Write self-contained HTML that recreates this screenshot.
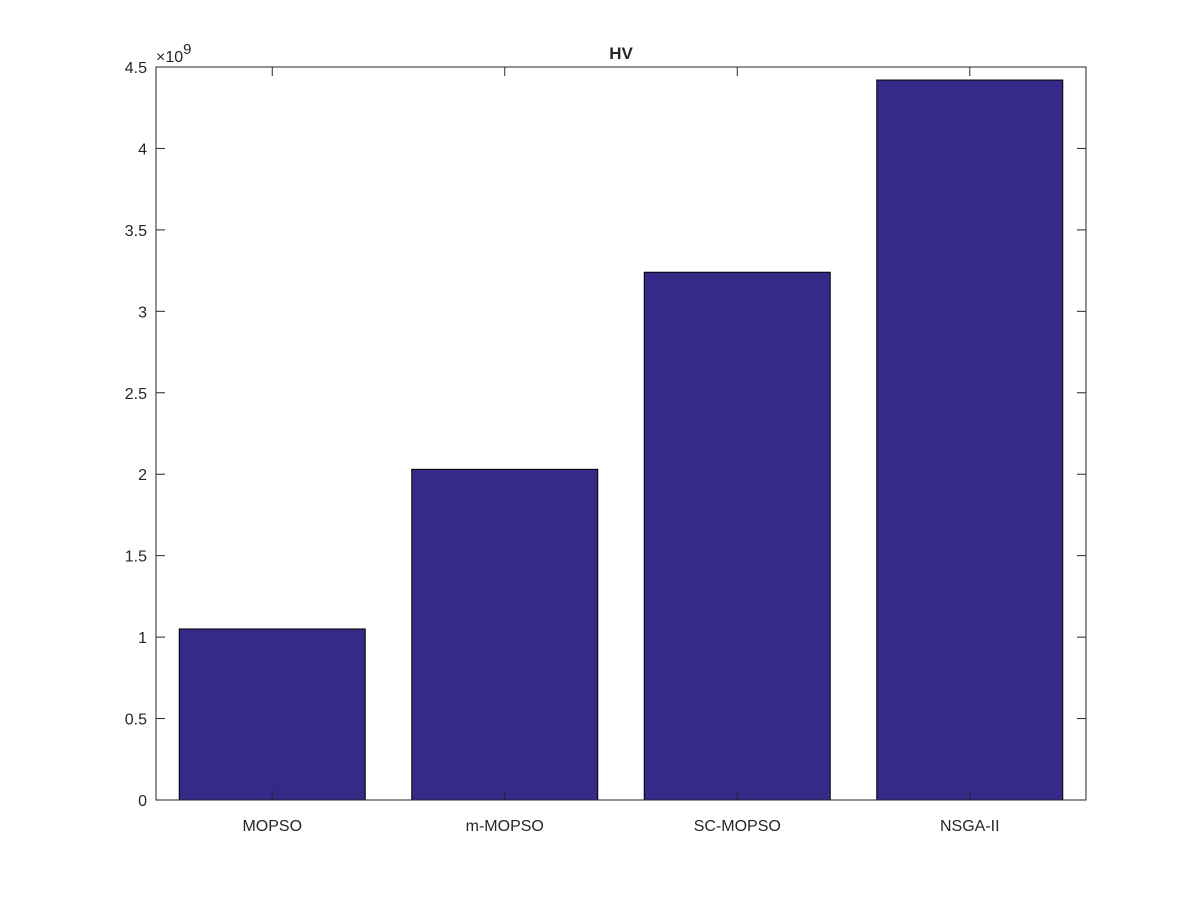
<!DOCTYPE html>
<html><head><meta charset="utf-8"><style>
body{margin:0;background:#fff;}
svg text{font-family:"Liberation Sans",Arial,sans-serif;fill:#262626;}
</style></head><body>
<svg id="chart" width="1200" height="900" xmlns="http://www.w3.org/2000/svg">
<rect width="1200" height="900" fill="#fff"/>
<g id="bars"></g>
<g id="axes"></g>
<text x="621" y="59" text-anchor="middle" font-size="17" font-weight="bold" fill="#000">HV</text>
<text x="156" y="62" font-size="16">×10<tspan dy="-8" font-size="15">9</tspan></text>
</svg>
<script>
const categories = ["MOPSO","m-MOPSO","SC-MOPSO","NSGA-II"];
const values = [1.05, 2.03, 3.24, 4.42];
const yTicks = [0,0.5,1,1.5,2,2.5,3,3.5,4,4.5];
const yTickLabels = ["0","0.5","1","1.5","2","2.5","3","3.5","4","4.5"];

const L=156,R=1086,T=67,B=800;
const ns="http://www.w3.org/2000/svg";
const y=v=>B-(v/4.5)*(B-T);
const x=i=>L+(i+1-0.5)/4*(R-L);
const bw=0.8/4*(R-L);
const bars=document.getElementById('bars'), axes=document.getElementById('axes');
function mk(t,a,p){const e=document.createElementNS(ns,t);for(const k in a)e.setAttribute(k,a[k]);p.appendChild(e);return e;}
categories.forEach((c,i)=>{
  const r=mk('rect',{x:x(i)-bw/2,y:y(values[i]),width:bw,height:B-y(values[i]),fill:'#352a87',stroke:'#000','stroke-width':1},bars);
  
  
  const t=mk('text',{x:x(i),y:B+31,'text-anchor':'middle','font-size':16},axes);
  t.textContent=c;
  
  
  mk('line',{x1:x(i),x2:x(i),y1:B,y2:B-9,stroke:'#262626'},axes);
  mk('line',{x1:x(i),x2:x(i),y1:T,y2:T+9,stroke:'#262626'},axes);
});
yTicks.forEach((v,i)=>{
  mk('line',{x1:L,x2:L+9,y1:y(v),y2:y(v),stroke:'#262626'},axes);
  mk('line',{x1:R,x2:R-9,y1:y(v),y2:y(v),stroke:'#262626'},axes);
  const t=mk('text',{x:L-9,y:y(v)+6,'text-anchor':'end','font-size':16},axes);
  t.textContent=yTickLabels[i];
  
  
});
const f=mk('rect',{x:L,y:T,width:R-L,height:B-T,fill:'none',stroke:'#262626','stroke-width':1},axes);


</script>
</body></html>
